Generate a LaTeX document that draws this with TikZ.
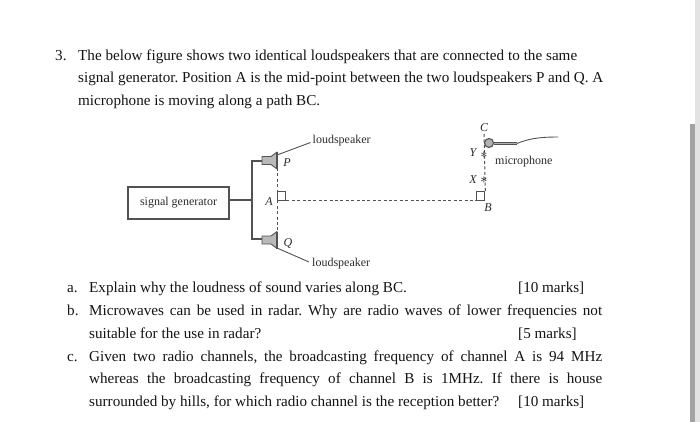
\documentclass[tikz,border=0pt]{standalone}
\usepackage{fontspec}
\setmainfont{Liberation Serif}
\usetikzlibrary{calc}
\definecolor{ink}{gray}{0.08}
\definecolor{wire}{gray}{0.32}
\frenchspacing
\tikzset{
 x=1pt,y=-1pt,
 line/.style={anchor=base west,inner sep=0pt,font=\fontsize{15.15}{17}\selectfont,text=ink},
 lab/.style={inner sep=0pt,font=\fontsize{12}{14}\selectfont,text=ink!90},
 ital/.style={inner sep=0pt,font=\fontsize{12}{14}\selectfont\itshape,text=ink!90},
 wirepath/.style={draw=wire,line width=1.1pt},
 dashline/.style={draw=wire,line width=1pt,dash pattern=on 3pt off 2.4pt},
 spk/.style={draw=wire,fill=gray!55,line width=0.9pt,line join=round},
 sq/.style={draw=wire,fill=white,line width=1.1pt,minimum size=8.5pt,inner sep=0pt},
 starmark/.style={inner sep=0pt,font=\fontsize{15}{15}\selectfont,text=ink},
}
\newcommand{\just}[2]{\makebox[#1pt][s]{#2}}
\begin{document}
\begin{tikzpicture}
\useasboundingbox (0,0) rectangle (700,422);
\fill[white] (0,0) rectangle (700,422);
% scrollbar
\fill[gray!22] (695,0) rectangle (700,422);
\fill[gray!72] (690,124) rectangle (695,422);
% question text
\node[line] (t1n) at (55,60.5) {3.};
\node[line] (t1) at (78,60.5) {\just{499}{The below figure shows two identical loudspeakers that are connected to the same}};
\node[line] (t2) at (78,83) {signal generator. Position A is the mid-point between the two loudspeakers P and Q. A};
\node[line] (t3) at (78,106) {microphone is moving along a path BC.};
\node[line] (an) at (67,292) {a.};
\node[line] (a1) at (89,292) {Explain why the loudness of sound varies along BC.};
\node[line] (a2) at (518,292) {[10 marks]};
\node[line] (bn) at (67,315) {b.};
\node[line] (b1) at (89,315) {\just{513}{Microwaves can be used in radar. Why are radio waves of lower frequencies not}};
\node[line] (b2) at (89,338) {suitable for the use in radar?};
\node[line] (b3) at (518,338) {[5 marks]};
\node[line] (cn) at (67,361) {c.};
\node[line] (c1) at (89,361) {\just{513}{Given two radio channels, the broadcasting frequency of channel A is 94 MHz}};
\node[line] (c2) at (89,383) {\just{513}{whereas the broadcasting frequency of channel B is 1MHz. If there is house}};
\node[line] (c3) at (89,406) {surrounded by hills, for which radio channel is the reception better?};
\node[line] (c4) at (518,406) {[10 marks]};
% generator
\node[draw=wire,line width=1.1pt,minimum width=101pt,minimum height=32pt,inner sep=0pt,font=\fontsize{12}{14}\selectfont,text=ink!90] (gen) at (178.5,203) {\raisebox{-1pt}{signal generator}};
\coordinate (J) at (252,200);
\coordinate (PB) at (262,161);
\coordinate (QB) at (262,239);
\draw[wirepath] (gen.east |- J) -- (J);
\draw[wirepath] (PB) -| (J) |- (QB);
% dashed lines
\coordinate (PT) at (277,168);
\coordinate (QT) at (277,232);
\node[sq] (A) at (281.5,196) {};
\node[sq] (B) at (480.5,196) {};
\coordinate (CT) at (484,134);
\draw[dashline] (PT) -- (QT);
\draw[dashline] (A.south east) -- (B.south west);
\draw[dashline] (CT) -- (B.north east);
% speakers
\foreach \yy in {160.5,240}{
 \draw[spk] (262,\yy-4) -- (271,\yy-4) -- (277,\yy-8.5) -- (277,\yy+8.5) -- (271,\yy+4) -- (262,\yy+4) -- cycle;
 \draw[wire,line width=1.3pt] (277,\yy-8.5) -- (277,\yy+8.5);
}
% loudspeaker labels
\node[lab,anchor=west] (lsP) at (312.5,140.5) {loudspeaker};
\node[lab,anchor=west] (lsQ) at (312,264) {loudspeaker};
\coordinate (lpE) at (277,155);
\coordinate (lqE) at (277,248);
\draw[wire,line width=0.9pt] ($(lsP.west)+(-2,2)$) -- (lpE);
\draw[wire,line width=0.9pt] ($(lsQ.west)+(-3,-2)$) -- (lqE);
% italics
\node[ital] (lP) at (287,163) {P};
\node[ital] (lQ) at (288,243) {Q};
\node[ital] (lA) at (269,202) {A};
\node[ital,fill=white,inner sep=0.5pt] (lC) at (484,128) {C};
\node[ital] (lY) at (473,153) {Y};
\node[ital] (lX) at (473,180) {X};
\node[ital] (lB) at (488,208) {B};
% X Y marks
\node[starmark] (mY) at (484,155) {$\ast$};
\node[starmark] (mX) at (484,180) {$\ast$};
% microphone
\coordinate (mE) at (517,143.5);
\coordinate (mW) at (558,137);
\node[circle,draw=wire,fill=gray!60,line width=1.1pt,minimum size=9pt,inner sep=0pt] (mic) at (489,143) {};
\draw[wire,line width=3.4pt] (mic.east |- mE) -- (mE);
\draw[gray!60,line width=1.2pt] (mic.east |- mE) -- (mE);
\draw[wire,line width=0.9pt] (mE) .. controls (528,139) and (538,137) .. (mW);
\node[lab,anchor=west] (lm) at (495,162) {microphone};
\end{tikzpicture}
\end{document}
